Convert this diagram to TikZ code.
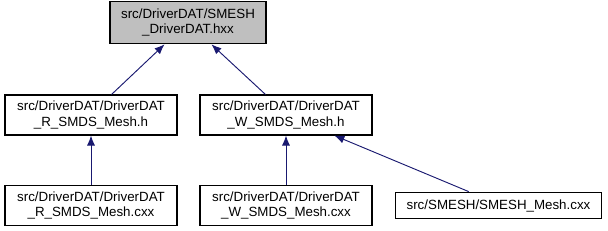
\documentclass[tikz,border=0pt]{standalone}
\usepackage{fontspec}
\setmainfont{Liberation Sans}
\usetikzlibrary{arrows.meta}
\definecolor{edgeblue}{HTML}{191970}
\definecolor{mainfill}{HTML}{BFBFBF}

\begin{document}
\begin{tikzpicture}[
        x=0.75pt, y=-0.75pt,
        file box/.style={draw, rectangle, line width=0.8pt, inner sep=0pt, align=center,
            font=\fontsize{10}{11.5}\selectfont, minimum width=129pt, minimum height=30pt},
        main box/.style={file box, fill=mainfill, minimum width=117pt, minimum height=32pt},
        include edge/.style={draw=edgeblue, line width=0.7pt, -{Latex[length=7.5pt,width=6pt]}},
    ]

    \useasboundingbox (0,0) rectangle (608,231);

    % Header file
    \node[main box] (smesh) at (188,22.5) {src/DriverDAT/SMESH\\\_DriverDAT.hxx};

    % Headers that include it
    \node[file box] (rmeshh) at (91,115) {src/DriverDAT/DriverDAT\\\_R\_SMDS\_Mesh.h};
    \node[file box] (wmeshh) at (286,115) {src/DriverDAT/DriverDAT\\\_W\_SMDS\_Mesh.h};

    % Sources
    \node[file box] (rmeshcxx) at (91,205.5) {src/DriverDAT/DriverDAT\\\_R\_SMDS\_Mesh.cxx};
    \node[file box] (wmeshcxx) at (286,205.5) {src/DriverDAT/DriverDAT\\\_W\_SMDS\_Mesh.cxx};
    \node[file box, minimum width=155pt, minimum height=20pt] (meshcxx) at (498.5,205.5) {src/SMESH/SMESH\_Mesh.cxx};

    % Include edges
    \draw[include edge] (rmeshh.45) -- (smesh.-137);
    \draw[include edge] (wmeshh.135) -- (smesh.-43);
    \draw[include edge] (rmeshcxx.north) -- (rmeshh.south);
    \draw[include edge] (wmeshcxx.north) -- (wmeshh.south);
    \draw[include edge] (meshcxx.155) -- (wmeshh.-23);

\end{tikzpicture}
\end{document}
